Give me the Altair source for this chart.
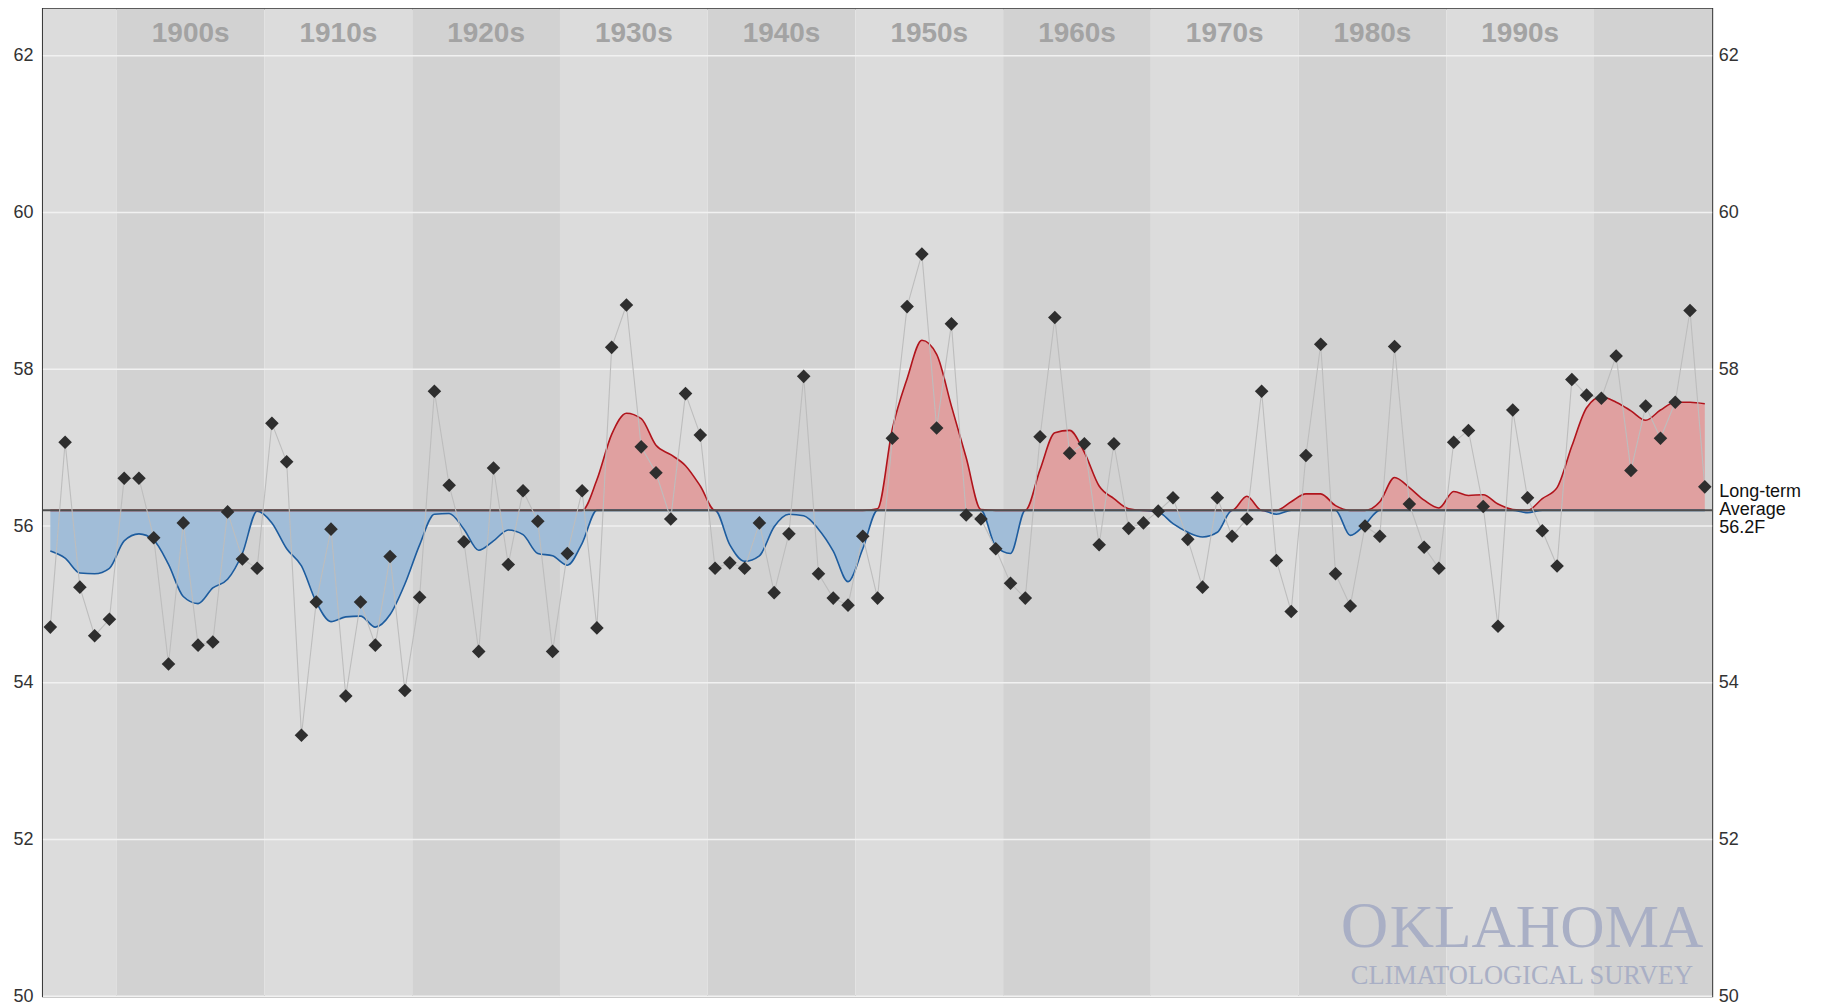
import altair as alt
import pandas as pd

# ---------------- data ----------------
years = list(range(1895, 2008))

temps = [
    54.71, 57.07, 55.22, 54.60, 54.81,                                      # 1895-1899
    56.61, 56.61, 55.85, 54.24, 56.04, 54.48, 54.52, 56.18, 55.58, 55.46,  # 1900s
    57.31, 56.82, 53.33, 55.03, 55.96, 53.83, 55.03, 54.48, 55.61, 53.90,  # 1910s
    55.09, 57.72, 56.52, 55.80, 54.40, 56.74, 55.51, 56.45, 56.06, 54.40,  # 1920s
    55.65, 56.45, 54.70, 58.28, 58.82, 57.01, 56.68, 56.09, 57.69, 57.16,  # 1930s
    55.46, 55.53, 55.46, 56.04, 55.15, 55.90, 57.91, 55.39, 55.08, 54.99,  # 1940s
    55.87, 55.08, 57.12, 58.80, 59.47, 57.25, 58.58, 56.14, 56.09, 55.71,  # 1950s
    55.27, 55.08, 57.14, 58.66, 56.93, 57.05, 55.76, 57.05, 55.97, 56.04,  # 1960s
    56.19, 56.36, 55.83, 55.22, 56.36, 55.87, 56.09, 57.72, 55.56, 54.91,  # 1970s
    56.90, 58.32, 55.39, 54.98, 56.00, 55.87, 58.29, 56.28, 55.73, 55.46,  # 1980s
    57.07, 57.22, 56.25, 54.72, 57.48, 56.36, 55.94, 55.49, 57.87, 57.67,  # 1990s
    57.63, 58.17, 56.71, 57.53, 57.12, 57.58, 58.75, 56.50,                # 2000s
]

smooth = [
    55.68, 55.59, 55.40, 55.39, 55.46,
    55.81, 55.90, 55.82, 55.51, 55.10, 55.01, 55.21, 55.32, 55.65, 56.19,
    56.04, 55.71, 55.49, 55.03, 54.78, 54.84, 54.85, 54.71, 54.87, 55.26,
    55.76, 56.15, 56.16, 55.96, 55.69, 55.81, 55.95, 55.89, 55.65, 55.62,
    55.50, 55.78, 56.59, 57.17, 57.44, 57.37, 57.03, 56.91, 56.77, 56.51,
    56.20, 55.76, 55.55, 55.62, 55.99, 56.15, 56.13, 55.96, 55.68, 55.29,
    55.71, 56.22, 57.24, 57.88, 58.37, 58.19, 57.53, 56.87, 56.21, 55.74,
    55.65, 56.20, 56.72, 57.19, 57.22, 56.94, 56.51, 56.35, 56.22, 56.20,
    56.18, 56.03, 55.92, 55.86, 55.92, 56.20, 56.38, 56.20, 56.15, 56.31,
    56.41, 56.41, 56.26, 55.88, 56.02, 56.31, 56.62, 56.49, 56.33, 56.23,
    56.44, 56.39, 56.40, 56.28, 56.21, 56.17, 56.35, 56.49, 57.02, 57.51,
    57.65, 57.58, 57.47, 57.35, 57.48, 57.58, 57.58, 57.56,
]

long_term_avg = 56.2
decades = [1890, 1900, 1910, 1920, 1930, 1940, 1950, 1960, 1970, 1980, 1990, 2000]
decade_labels = ["", "1900s", "1910s", "1920s", "1930s", "1940s", "1950s",
                 "1960s", "1970s", "1980s", "1990s", ""]
decade_shade = ["light", "dark"] * 6
y_ticks = [50, 52, 54, 56, 58, 60, 62]
y_ticks_right = [50, 52, 54, 58, 60, 62]

# ---------------- layout ----------------
W, H = 1672, 989
X0, X1 = 1894.5, 2007.5
xs = alt.Scale(domain=[X0, X1], nice=False, zero=False)
ys = alt.Scale(domain=[50, 62.6], nice=False, zero=False)
LABEL_FONT = "Liberation Sans Narrow, Liberation Sans, Arial"

df = pd.DataFrame({"year": years, "temp": temps, "smooth": smooth})
bands_df = pd.DataFrame({
    "start": [max(X0, d - 0.5) for d in decades],
    "end": [min(X1, d + 9.5) for d in decades],
    "mid": [d + 4.5 for d in decades],
    "label": decade_labels,
    "shade": decade_shade,
})
grid_df = pd.DataFrame({"v": y_ticks})
avg_df = pd.DataFrame({"avg": [long_term_avg], "txt": ["Long-term\nAverage\n56.2F"]})

bands = alt.Chart(bands_df).mark_rect().encode(
    x=alt.X("start:Q", scale=xs, axis=None),
    x2="end:Q",
    y=alt.value(0),
    y2=alt.value(H),
    color=alt.Color("shade:N", scale=alt.Scale(domain=["light", "dark"],
                                               range=["#dcdcdc", "#d2d2d2"]), legend=None),
)

grid = alt.Chart(grid_df).mark_rule(color="#f1f1f1", strokeWidth=1.5).encode(
    y=alt.Y("v:Q", scale=ys, axis=None)
)

dec_text = alt.Chart(bands_df).transform_filter("datum.label != ''").mark_text(
    font="Liberation Sans", fontSize=28, fontWeight="bold", color="#a3a3a3",
    baseline="middle", align="center"
).encode(
    x=alt.X("mid:Q", scale=xs, axis=None),
    y=alt.value(25),
    text="label:N",
)

base = alt.Chart(df).transform_calculate(
    hi=f"max(datum.smooth, {long_term_avg})",
    lo=f"min(datum.smooth, {long_term_avg})",
    avg=f"{long_term_avg}",
)
xenc = alt.X("year:Q", scale=xs, axis=None)

blue_area = base.mark_area(color="#a1bdd8", interpolate="monotone", opacity=1).encode(
    x=xenc, y=alt.Y("lo:Q", scale=ys, axis=None), y2="avg:Q")
red_area = base.mark_area(color="#e0a0a0", interpolate="monotone", opacity=1).encode(
    x=xenc, y=alt.Y("hi:Q", scale=ys, axis=None), y2="avg:Q")
blue_line = base.mark_line(color="#1d5c9e", strokeWidth=1.6, interpolate="monotone").encode(
    x=xenc, y=alt.Y("lo:Q", scale=ys, axis=None))
red_line = base.mark_line(color="#b0141c", strokeWidth=1.6, interpolate="monotone").encode(
    x=xenc, y=alt.Y("hi:Q", scale=ys, axis=None))

avg_rule = alt.Chart(avg_df).mark_rule(color="#4f4f4f", strokeWidth=2).encode(
    y=alt.Y("avg:Q", scale=ys, axis=None))

conn = alt.Chart(df).mark_line(color="#bdbdbd", strokeWidth=1.1).encode(
    x=xenc,
    y=alt.Y("temp:Q", scale=ys, axis=alt.Axis(
        orient="right", values=y_ticks_right, grid=False, ticks=False, tickSize=0,
        domain=False, title=None, labelFont=LABEL_FONT, labelFontSize=18,
        labelColor="#333333", labelPadding=6)),
)

pts = alt.Chart(df).mark_point(shape="diamond", filled=True, size=185, color="#2e2e2e",
                               opacity=1).encode(
    x=xenc,
    y=alt.Y("temp:Q", scale=ys, axis=alt.Axis(
        orient="left", values=y_ticks, grid=False, ticks=False, tickSize=0, domain=False,
        title=None, labelFont=LABEL_FONT, labelFontSize=18, labelColor="#333333",
        labelPadding=10)),
)

avg_text = alt.Chart(avg_df).mark_text(
    font=LABEL_FONT, fontSize=18, color="#111111", align="left", baseline="middle",
    lineBreak="\n", lineHeight=18, dy=-18
).encode(
    x=alt.value(W + 7),
    y=alt.Y("avg:Q", scale=ys, axis=None),
    text="txt:N",
)

WM = "#a9afc5"
WF = "Liberation Serif, Times New Roman, serif"
wm1 = alt.Chart(avg_df).mark_text(font=WF, fontSize=66, color=WM, align="left",
                                  baseline="alphabetic", text="O").encode(
    x=alt.value(1300), y=alt.value(940))
wm2 = alt.Chart(avg_df).mark_text(font=WF, fontSize=61.5, color=WM, align="left",
                                  baseline="alphabetic", text="KLAHOMA").encode(
    x=alt.value(1349), y=alt.value(940))
wm3 = alt.Chart(avg_df).mark_text(font=WF, fontSize=26.5, color=WM, align="left",
                                  baseline="alphabetic",
                                  text="CLIMATOLOGICAL SURVEY").encode(
    x=alt.value(1310), y=alt.value(977))

chart = alt.layer(
    bands, grid, dec_text, wm1, wm2, wm3,
    blue_area, red_area, blue_line, red_line, avg_rule, conn, pts, avg_text,
).resolve_axis(y="independent").properties(
    width=W, height=H,
    autosize=alt.AutoSizeParams(type="none"),
    padding={"left": 35, "top": 0, "right": 110, "bottom": 12},
    background="white",
).configure_view(stroke="#333333", strokeWidth=2)

chart.save("out.html", embed_options={"renderer": "svg", "actions": False})
